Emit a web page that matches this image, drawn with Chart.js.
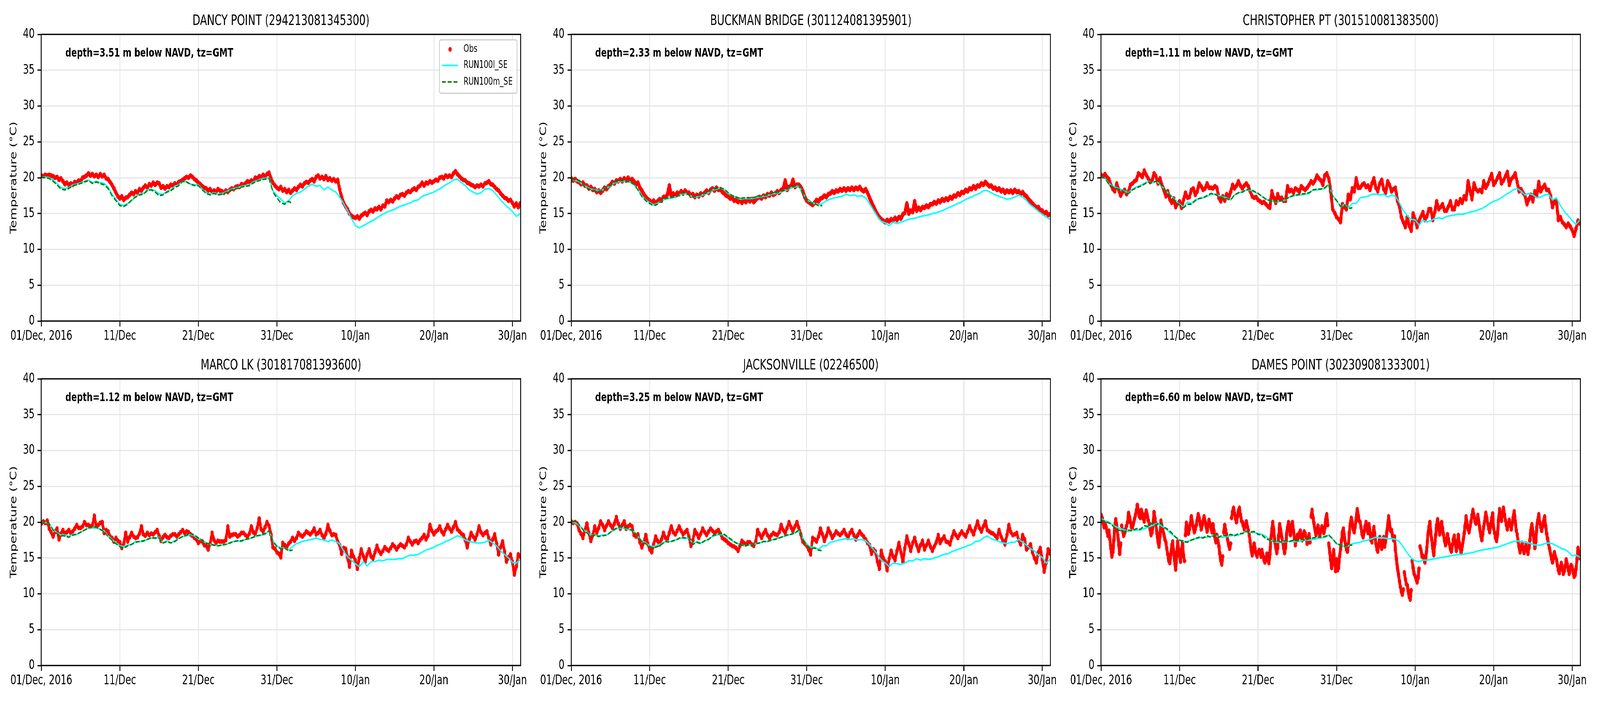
<!DOCTYPE html>
<html><head><meta charset="utf-8">
<script src="https://cdn.jsdelivr.net/npm/chart.js@4.4.1/dist/chart.umd.min.js"></script>
<style>
html,body{margin:0;padding:0;background:#fff;overflow:hidden;}
#wrap{position:relative;width:6000px;height:1800px;background:#fff;overflow:hidden;transform-origin:0 0;}
canvas{position:absolute;}
</style></head><body><div id="wrap"></div>
<script>
// ---------------- DATA ----------------
const stationTitles = ['DANCY POINT (294213081345300)','BUCKMAN BRIDGE (301124081395901)','CHRISTOPHER PT (301510081383500)',
  'MARCO LK (301817081393600)','JACKSONVILLE (02246500)','DAMES POINT (302309081333001)'];
const depthNotes = ['depth=3.51 m below NAVD, tz=GMT','depth=2.33 m below NAVD, tz=GMT','depth=1.11 m below NAVD, tz=GMT',
  'depth=1.12 m below NAVD, tz=GMT','depth=3.25 m below NAVD, tz=GMT','depth=6.60 m below NAVD, tz=GMT'];
const seriesLabels = ['Obs','RUN100l_SE','RUN100m_SE'];
const yAxisTitle = 'Temperature (\u00B0C)';
const xTickDays = [0,10,20,30,40,50,60];               // days since 01/Dec/2016 00:00 GMT
const xTickLabels = ['01/Dec, 2016','11/Dec','21/Dec','31/Dec','10/Jan','20/Jan','30/Jan'];
const obsStepDays = [0.25,0.25,0.25,0.25,0.25,0.125];  // sampling interval of the obs arrays (days)
const modelStepDays = 0.5;                             // sampling interval of the model arrays (days)

const obsDancy = [
20.3,20.2,20.4,20.3, 20.4,20.3,20.2,20.0, 20.1,19.7,19.9,19.5, 19.1,19.3,19.0,19.2, 19.0,19.4,19.3,19.6,
19.5,20.0,20.1,20.3, 20.6,20.3,20.5,20.2, 20.4,20.1,20.5,20.2, 20.4,19.9,19.8,19.4, 19.0,18.5,17.9,17.4,
17.1,17.4,16.9,17.2, 17.3,17.6,17.9,17.7, 18.1,17.9,18.4,18.2, 18.6,18.9,18.6,19.1, 18.9,19.3,19.0,19.3,
19.2,18.6,18.8,18.5, 18.8,18.7,19.0,18.9, 19.2,19.0,19.4,19.5, 19.7,19.9,20.1,20.0, 20.3,20.1,19.8,19.6,
19.3,19.1,18.8,18.6, 18.5,18.2,18.4,18.0, 18.2,18.0,18.4,18.2, 18.1,17.9,18.2,18.0, 18.3,18.5,18.4,18.7,
18.8,18.7,19.1,19.0, 19.2,19.5,19.4,19.6, 19.5,20.0,19.9,20.2, 20.1,20.4,20.2,20.5, 20.7,19.9,19.3,18.9,
18.6,18.4,18.7,18.2, 18.4,18.0,18.3,17.9, 18.2,18.5,18.3,18.7, 19.0,18.8,19.2,19.4, 19.3,19.6,19.8,19.5,
20.1,20.3,19.9,20.1, 19.8,20.2,19.7,19.9, 19.6,19.8,19.5,19.7, 18.4,17.3,16.5,16.0, 15.6,15.0,14.7,14.5,
14.4,14.6,14.3,14.7, 14.9,15.1,14.8,15.3, 15.5,15.3,15.7,15.6, 15.9,15.6,16.1,16.0, 16.8,16.6,16.9,16.7,
17.1,17.4,17.2,17.6, 17.7,17.5,17.9,18.1, 18.0,18.3,18.5,18.3, 18.7,18.9,19.3,18.9, 19.3,19.2,19.5,19.3,
19.5,19.7,19.6,20.0, 20.1,19.9,20.3,20.1, 20.3,20.1,20.6,20.9, 20.5,20.2,19.9,19.7, 19.6,19.3,19.2,19.0,
18.9,18.7,18.9,18.8, 19.0,18.8,19.2,19.3, 19.5,19.1,19.0,18.7, 18.4,18.2,17.8,17.5, 17.2,17.1,16.8,16.9,
16.5,16.0,16.4,15.9, 16.4];
const run100lDancy = [
20.1,20.1,20.0,19.7,19.2,18.6,18.5,18.6,19.0,19.1, 19.3,19.5,19.7,19.3,19.5,19.3,19.2,18.7,17.7,17.0,
16.3,16.1,16.4,16.8,17.4,17.7,17.8,18.3,18.4,18.2, 17.7,17.7,18.1,18.3,18.8,19.0,19.5,19.4,19.1,19.0,
19.0,18.4,17.9,17.7,17.9,17.7,17.8,18.0,18.3,18.5, 18.6,18.8,18.9,19.0,19.4,19.6,19.8,19.9,20.0,18.2,
17.5,17.0,16.5,16.8,17.5,17.8,18.0,18.4,18.8,19.1, 18.8,18.9,18.3,18.7,18.3,18.0,17.3,16.4,15.4,14.3,
13.3,13.0,13.3,13.6,13.9,14.2,14.6,14.9,15.2,15.4, 15.6,15.9,16.1,16.3,16.5,16.8,16.9,17.4,17.6,17.8,
18.0,18.3,18.6,19.0,19.3,19.7,19.8,19.3,18.9,18.3, 18.0,17.7,17.9,18.4,18.5,18.2,17.6,16.9,16.3,15.8,
15.3,14.6,15.0];
const run100mDancy = [
20.1,20.0,19.9,19.5,19.0,18.4,18.3,18.5,18.9,19.0, 19.2,19.4,19.6,19.2,19.4,19.2,19.0,18.5,17.5,16.8,
16.1,16.0,16.3,16.9,17.3,17.6,17.7,18.2,18.3,18.0, 17.5,17.6,18.0,18.2,18.6,18.9,19.5,19.4,19.1,18.9,
18.9,18.3,17.8,17.6,17.8,17.6,17.7,17.9,18.2,18.4, 18.5,18.7,18.8,18.9,19.3,19.5,19.7,19.8,19.9,18.0,
17.2,16.5,16.3,16.7,16.4];

const obsBuckman = [
19.9,19.6,19.8,19.5, 19.4,19.1,19.3,18.9, 18.9,18.5,18.7,18.3, 18.4,18.0,18.2,17.9, 18.2,18.6,18.4,18.8,
19.0,19.4,19.2,19.6, 19.5,19.8,19.5,19.9, 19.6,20.0,19.6,19.8, 19.5,19.1,19.3,18.6, 18.2,17.7,17.3,17.0,
16.8,16.5,16.8,16.4, 16.7,17.0,16.8,17.3, 17.3,17.6,18.9,17.4, 17.8,17.5,17.9,17.7, 18.1,17.8,18.2,17.9,
17.9,17.5,17.7,17.3, 17.6,17.4,17.8,17.6, 17.9,18.2,17.9,18.3, 18.5,18.2,18.6,18.3, 18.4,18.0,17.8,17.5,
17.4,17.1,17.2,16.8, 16.9,16.6,16.9,16.5, 16.9,16.6,17.0,16.7, 17.0,16.6,16.9,17.2, 17.3,17.1,17.5,17.3,
17.7,17.5,17.9,17.6, 17.8,18.1,17.9,18.3, 18.4,19.6,18.3,18.7, 18.8,19.7,18.7,19.0, 19.0,18.7,18.1,17.3,
16.8,16.6,16.4,16.2, 16.5,16.9,16.7,17.1, 17.2,17.5,17.3,17.7, 17.8,18.1,17.9,18.2, 18.1,18.4,18.2,18.5,
18.2,18.5,18.3,18.6, 18.3,18.6,18.4,18.7, 18.3,18.1,18.4,17.9, 17.2,16.6,16.0,15.4, 14.9,14.5,14.2,14.0,
13.8,14.1,13.9,14.2, 14.0,14.4,14.1,14.5, 14.3,14.9,15.1,16.4, 15.0,15.4,15.2,16.7, 15.4,15.8,15.5,15.9,
15.8,16.1,15.9,16.3, 16.3,16.6,16.4,16.8, 16.6,17.0,16.8,17.1, 16.9,17.3,17.1,17.5, 17.4,17.8,17.6,18.0,
17.9,18.3,18.1,18.5, 18.4,18.8,18.5,18.9, 18.8,19.2,19.0,19.4, 19.1,18.8,18.9,18.5, 18.6,18.3,18.5,18.1,
18.3,17.9,18.2,18.0, 18.2,17.9,18.3,18.0, 18.1,17.7,18.0,17.6, 17.4,17.0,16.7,16.4, 16.1,15.8,15.9,15.5,
15.4,15.0,15.2,14.8, 14.9];
const run100lBuckman = [
19.8,19.6,19.5,19.0,18.7,18.4,18.3,18.2,18.3,18.6, 18.8,19.3,19.4,19.5,19.5,19.4,19.0,18.3,17.5,16.9,
16.5,16.2,16.4,16.8,17.0,17.1,17.2,17.4,17.7,17.8, 17.6,17.3,17.3,17.5,17.7,17.9,18.3,18.4,18.6,18.3,
17.8,17.5,17.3,17.0,17.1,17.1,17.1,17.2,17.3,17.4, 17.5,17.7,17.8,17.9,18.1,18.3,18.6,18.7,18.9,17.9,
16.9,16.6,16.4,16.2,16.4,16.8,17.0,17.2,17.3,17.4, 17.7,17.5,17.6,17.4,17.5,17.2,16.4,15.5,14.6,13.9,
13.7,13.3,13.8,13.6,13.8,14.0,14.2,14.3,14.4,14.6, 14.7,14.8,15.0,15.1,15.3,15.5,15.8,16.0,16.3,16.5,
16.8,17.1,17.3,17.6,17.8,18.2,18.2,17.9,17.6,17.4, 17.2,17.0,17.1,17.3,17.6,17.3,16.8,16.2,15.8,15.3,
14.9,14.5,14.2];
const run100mBuckman = [
19.8,19.7,19.6,19.0,18.6,18.3,18.2,18.1,18.3,18.6, 18.9,19.4,19.5,19.6,19.5,19.4,19.1,18.3,17.4,16.8,
16.4,16.1,16.3,16.8,17.1,17.2,17.3,17.4,17.8,17.9, 17.6,17.3,17.4,17.6,17.8,18.0,18.4,18.5,18.6,18.4,
17.9,17.5,17.3,17.1,17.2,17.2,17.2,17.3,17.4,17.5, 17.6,17.8,17.9,18.0,18.2,18.4,18.7,18.8,19.0,17.9,
16.9,16.5,16.4,16.1,16.1];

const obsChristopher = [
20.4,20.2,20.5,20.1, 19.8,19.0,18.4,18.1, 19.2,18.3,17.5,18.0, 18.3,17.7,18.1,19.0, 19.2,19.5,19.7,20.6,
20.4,20.1,21.0,20.4, 19.9,19.4,19.6,20.6, 20.2,19.2,19.9,19.0, 18.3,17.4,18.1,17.0, 16.5,17.1,15.9,16.4,
16.7,15.8,16.9,17.9, 17.2,17.3,18.3,18.5, 17.6,18.1,19.2,18.8, 18.3,18.5,19.2,18.6, 18.6,18.5,18.8,18.6,
17.2,16.7,17.4,16.8, 17.7,17.2,18.0,19.0, 18.5,18.9,19.5,18.9, 18.5,18.9,19.2,18.8, 18.1,17.4,17.2,17.3,
16.9,16.7,16.5,16.6, 16.3,16.0,15.8,18.1, 17.2,16.5,17.7,17.0, 17.2,16.8,16.8,18.8, 18.1,18.3,17.9,18.5,
18.3,18.0,18.8,18.5, 18.3,18.6,19.0,19.5, 19.2,19.6,20.3,19.9, 19.6,19.0,20.3,20.6, 19.9,18.1,15.6,15.1,
14.5,14.2,13.8,16.3, 15.9,15.6,17.6,17.0, 18.5,18.1,19.9,18.6, 18.6,19.0,19.2,18.7, 18.9,18.3,19.2,19.9,
18.6,18.1,19.2,19.7, 18.4,17.9,19.5,19.0, 18.1,18.4,18.6,16.8, 16.0,14.5,13.8,13.1, 14.5,13.3,12.6,15.0,
14.2,13.1,14.0,14.6, 15.2,14.1,14.6,15.6, 15.6,14.1,15.2,16.7, 15.6,15.9,16.3,15.4, 15.4,16.0,16.7,15.6,
15.6,16.7,16.3,17.0, 16.5,17.4,17.0,19.5, 18.2,17.0,19.2,18.4, 18.1,18.3,18.0,19.5, 18.6,19.1,19.8,20.5,
19.0,19.4,20.0,20.6, 19.2,19.6,20.2,20.8, 19.0,19.8,20.1,20.6, 19.4,18.1,18.4,17.9, 17.5,16.3,17.0,17.6,
16.7,18.1,17.5,19.4, 18.1,18.6,19.0,18.3, 18.3,17.5,15.9,16.7, 16.7,14.1,14.5,13.8, 13.5,13.1,13.6,13.2,
12.7,11.9,12.9,14.0, 13.6];
const run100lChristopher = [
20.2,19.9,19.2,18.8,18.6,18.4,18.1,17.9,18.4,18.7, 18.9,19.2,19.5,19.3,19.5,19.1,18.5,17.9,17.4,16.8,
16.3,15.9,16.6,16.4,16.9,17.1,17.2,17.4,17.7,17.7, 17.5,17.3,17.2,16.9,17.6,17.9,18.0,18.3,18.3,18.0,
17.8,17.4,17.0,16.8,16.7,16.6,16.8,16.9,17.3,17.5, 17.6,17.6,17.7,17.8,18.3,18.3,18.4,18.5,19.1,17.5,
16.9,15.9,16.3,15.8,16.4,16.4,17.2,17.3,17.4,17.7, 17.7,17.6,17.7,17.3,17.6,17.4,16.5,15.4,14.7,14.2,
14.1,13.4,14.1,13.8,14.0,14.3,14.4,14.3,14.6,14.7, 14.8,14.9,14.9,15.0,15.2,15.3,15.5,15.7,16.0,16.4,
16.7,16.9,17.2,17.6,17.9,18.3,18.5,18.1,17.6,17.8, 17.6,17.2,17.3,17.6,17.7,16.9,17.2,16.1,15.3,14.7,
14.0,13.5,14.1];
const run100mChristopher = [
20.2,19.9,19.1,18.7,18.5,18.3,18.0,17.8,18.3,18.6, 18.8,19.1,19.4,19.3,19.5,19.2,18.5,17.9,17.3,16.7,
16.2,15.8,16.3,16.3,16.8,17.1,17.2,17.5,17.8,17.7, 17.4,17.2,17.1,16.9,17.6,17.9,18.0,18.3,18.4,18.1,
17.8,17.4,17.0,16.8,16.7,16.7,16.8,17.0,17.3,17.5, 17.6,17.7,17.8,17.9,18.3,18.4,18.4,18.6,19.1,17.4,
16.8,16.0,16.2,15.7,15.8];

const obsMarco = [
19.8,20.1,19.9,20.2, 19.1,18.6,18.0,18.7, 19.1,17.6,18.4,18.9, 18.3,18.6,18.9,18.5, 18.7,19.1,19.6,19.2,
19.2,19.4,20.0,19.6, 19.6,19.4,19.5,20.9, 19.4,19.6,19.9,20.0, 18.5,18.9,18.7,18.0, 17.8,17.3,17.8,17.4,
17.2,16.4,17.0,18.5, 17.3,17.9,18.5,18.0, 17.8,17.9,18.4,19.4, 18.3,18.1,18.5,18.2, 18.4,18.3,18.6,18.9,
18.1,17.4,17.9,18.2, 17.9,17.8,18.1,18.3, 18.3,18.0,18.3,18.6, 18.9,18.5,18.7,18.6, 18.3,18.1,17.8,17.6,
17.1,17.4,17.3,16.8, 16.7,16.2,17.0,18.5, 17.5,17.1,17.4,17.3, 17.3,17.3,17.5,19.4, 18.0,18.2,18.3,18.3,
18.0,18.2,18.5,18.5, 18.2,18.0,18.4,19.4, 18.6,18.3,19.2,20.5, 19.0,18.7,19.3,20.0, 19.5,18.3,16.5,16.3,
15.8,15.6,15.1,17.1, 16.8,16.5,17.0,17.3, 17.8,17.4,17.8,18.5, 18.2,18.0,18.3,18.7, 18.5,18.3,18.6,19.1,
18.3,18.5,18.9,18.2, 17.8,18.4,19.6,18.8, 18.2,18.3,18.2,17.3, 16.8,15.6,16.4,16.3, 15.1,13.8,16.0,15.2,
14.7,13.5,15.0,16.2, 15.3,14.5,15.5,16.2, 15.2,14.9,15.8,16.7, 16.0,15.6,16.0,16.5, 16.2,16.0,16.4,16.9,
16.6,16.2,16.6,16.9, 16.7,16.5,16.9,17.8, 17.3,16.9,17.3,17.4, 17.1,17.5,17.8,18.2, 17.6,18.1,19.6,18.8,
18.3,18.7,18.9,19.4, 18.7,18.3,19.0,19.6, 19.1,18.7,19.3,20.0, 19.0,18.7,18.4,18.2, 17.5,16.5,17.6,18.5,
18.0,17.6,18.3,19.4, 18.6,18.2,18.5,18.7, 17.8,16.9,17.6,18.3, 17.0,15.5,16.5,17.3, 15.9,14.5,15.1,15.5,
14.5,12.7,13.8,15.5, 15.2];
const run100lMarco = [
20.0,20.0,19.8,19.0,18.5,18.2,18.2,18.0,18.3,18.3, 18.6,18.9,19.2,19.2,19.2,19.0,18.8,18.1,17.6,17.1,
16.7,16.6,16.8,16.9,17.3,17.3,17.3,17.6,17.8,17.7, 17.9,17.1,17.4,17.1,17.4,17.7,18.0,18.1,18.3,18.1,
17.7,17.4,17.1,16.9,16.8,16.7,16.8,16.9,17.1,17.3, 17.4,17.3,17.6,17.7,17.9,18.1,18.2,18.3,18.8,17.4,
16.7,16.4,16.4,16.1,16.6,17.0,17.2,17.4,17.5,17.6, 17.8,17.6,17.5,17.3,17.5,17.3,17.0,16.0,15.2,14.7,
14.2,13.8,14.5,13.9,14.5,14.5,14.7,14.6,14.8,14.8, 14.8,14.9,14.9,15.2,15.4,15.4,15.5,15.8,16.1,16.3,
16.5,16.8,17.0,17.3,17.5,17.8,18.1,17.9,17.5,17.3, 17.2,17.1,17.1,17.2,17.5,17.1,16.7,16.0,15.5,15.0,
14.4,14.3,14.8];
const run100mMarco = [
19.9,20.1,19.8,18.9,18.4,18.1,18.1,17.9,18.2,18.3, 18.6,18.9,19.2,19.3,19.3,19.0,18.7,18.0,17.5,17.0,
16.6,16.4,16.7,16.9,17.2,17.3,17.4,17.6,17.8,17.8, 17.8,17.1,17.3,17.1,17.3,17.7,18.0,18.2,18.4,18.2,
17.8,17.4,17.1,16.9,16.8,16.7,16.8,16.9,17.1,17.3, 17.4,17.4,17.6,17.7,17.9,18.1,18.2,18.4,18.8,17.3,
16.6,16.3,16.4,16.0,16.1];

const obsJacksonville = [
20.1,19.9,20.0,19.8, 18.9,18.4,17.8,18.9, 19.8,18.5,17.4,18.2, 19.4,18.5,19.2,20.1, 19.6,18.9,19.5,20.1,
19.6,19.2,19.8,20.7, 19.8,19.1,19.6,20.1, 19.1,19.4,19.6,19.4, 18.2,18.0,18.3,17.2, 16.5,17.2,18.2,17.0,
16.2,15.8,16.9,18.0, 17.4,16.9,17.6,18.5, 17.8,17.6,18.5,19.4, 18.6,18.3,18.8,19.4, 18.8,18.3,18.6,18.9,
18.0,16.7,17.5,18.9, 18.4,17.8,18.4,19.1, 18.6,18.2,18.7,19.1, 18.8,18.5,18.7,18.9, 18.4,17.8,17.6,17.4,
17.1,16.9,16.7,16.6, 16.4,16.0,16.7,17.4, 17.1,16.9,17.2,17.2, 16.9,16.7,17.3,18.9, 18.3,17.8,18.4,18.9,
18.2,17.8,18.2,18.5, 18.3,18.2,18.6,19.6, 18.9,18.5,19.2,20.0, 19.3,18.7,19.4,20.0, 19.2,18.3,17.3,17.0,
16.7,16.2,15.5,17.8, 17.6,17.3,18.0,19.1, 18.3,17.4,18.1,19.1, 18.5,17.8,18.2,18.7, 18.4,18.2,18.5,18.9,
18.3,17.8,18.5,18.9, 18.2,17.6,18.2,18.7, 18.3,18.0,17.6,17.1, 16.8,15.6,16.2,15.9, 14.5,13.5,16.0,15.0,
14.5,13.3,14.9,16.0, 15.2,14.7,16.0,17.1, 15.8,14.5,16.4,18.0, 17.0,16.0,17.1,17.8, 16.8,16.0,16.8,17.4,
16.2,16.8,17.4,16.6, 16.0,16.6,17.2,18.2, 17.1,17.6,18.0,17.3, 17.2,16.9,17.9,18.7, 18.2,17.8,18.3,18.7,
18.3,18.0,18.7,19.4, 18.8,18.3,19.2,20.1, 19.2,18.7,19.4,20.1, 18.9,18.7,18.5,18.4, 18.1,17.8,18.9,18.0,
17.4,16.9,18.2,19.6, 18.6,18.2,18.3,18.5, 17.5,16.9,18.2,17.6, 16.2,16.5,16.9,15.8, 15.0,14.4,15.8,16.4,
14.8,13.1,14.4,16.2, 15.6];
const run100lJacksonville = [
20.0,19.9,19.6,19.0,18.6,18.2,18.2,18.1,18.2,18.2, 18.6,18.9,19.2,19.2,19.1,18.9,18.7,18.0,17.4,17.1,
16.7,16.6,16.8,17.0,17.3,17.3,17.4,17.6,17.8,17.7, 17.8,17.0,17.3,17.1,17.4,17.6,18.0,18.2,18.3,18.2,
17.8,17.4,17.1,16.9,16.7,16.8,16.9,17.0,17.1,17.3, 17.3,17.5,17.7,17.8,18.0,18.2,18.3,18.5,18.8,17.8,
16.9,16.5,16.5,16.2,16.7,16.7,17.2,17.3,17.5,17.6, 17.7,17.6,17.7,17.5,17.6,17.4,16.9,16.2,15.5,14.7,
14.3,13.8,14.3,14.2,14.1,14.3,14.6,14.6,14.9,14.7, 14.9,14.8,14.9,15.1,15.3,15.5,15.6,15.9,16.1,16.3,
16.5,16.7,16.9,17.3,17.4,17.8,18.1,17.7,17.5,17.3, 17.1,17.0,17.2,17.2,17.6,17.2,16.8,16.3,16.0,15.4,
15.1,14.3,14.8];
const run100mJacksonville = [
20.0,20.1,19.7,18.9,18.5,18.1,18.2,18.0,18.1,18.2, 18.6,19.0,19.3,19.3,19.2,19.0,18.7,18.0,17.3,17.0,
16.6,16.4,16.6,16.9,17.3,17.2,17.4,17.6,17.9,17.8, 17.9,16.9,17.2,17.0,17.4,17.6,18.1,18.3,18.4,18.3,
17.9,17.5,17.1,16.9,16.7,16.8,16.9,17.0,17.1,17.3, 17.3,17.5,17.6,17.8,18.0,18.2,18.3,18.5,18.9,17.6,
16.8,16.3,16.4,16.1,16.0];

const obsDames = [
21.0,20.6,20.0,19.3,19.9,19.4,18.7,18.1, 18.8,17.6,16.3,15.2,15.8,17.5,19.2,20.4, 19.5,18.2,16.9,15.6,17.0,19.5,18.8,18.1,
18.5,19.0,19.5,20.0,21.3,20.7,20.0,19.3, 19.2,19.8,20.4,21.0,21.6,22.4,21.6,20.8, 20.6,21.7,21.2,20.5,20.1,20.9,21.6,21.0,
20.3,19.8,19.0,18.2,18.6,19.7,21.4,20.5, 19.6,18.4,17.3,16.6,18.0,20.2,19.5,18.9, 18.3,17.6,17.2,16.3,15.5,14.6,14.3,15.4,
16.8,17.3,15.8,14.6,13.4,15.2,17.3,16.2, 15.3,14.5,16.0,17.2,15.4,14.6,18.2,19.9, 19.3,18.4,19.0,19.8,20.8,19.9,19.2,18.6,
19.0,19.6,20.3,21.1,20.6,19.8,19.0,19.6, 20.2,20.8,20.1,19.4,18.7,19.5,20.3,19.8, 19.2,18.6,19.7,18.8,17.9,17.2,18.2,17.4,
16.7,15.6,14.6,14.1,15.2,18.6,19.6,18.9, 18.2,17.5,16.8,16.3,17.0,20.6,21.5,22.0, 21.3,20.5,20.0,20.8,21.6,22.0,21.1,20.2,
20.0,19.5,19.0,19.6,20.1,19.4,18.9,18.2, 17.2,16.1,15.4,16.2,17.0,16.3,15.6,15.2, 15.8,16.1,15.7,15.2,16.1,15.3,14.7,14.4,
15.1,15.6,14.8,14.3,15.5,17.6,19.0,20.0, 18.8,17.3,16.5,15.7,16.4,18.1,19.7,18.9, 18.0,17.3,16.4,15.7,16.5,18.2,19.3,20.0,
19.1,18.2,19.5,20.0,18.9,17.8,16.8,17.5, 18.2,17.8,18.5,18.8,17.9,17.5,18.2,18.7, 18.4,17.7,17.0,17.6,18.3,17.2,20.8,21.7,
20.6,19.8,19.0,18.2,18.8,19.5,18.6,18.1, 18.8,19.4,19.0,18.5,19.2,20.4,21.1,19.6, 17.0,15.8,14.7,13.6,14.5,16.1,14.6,13.2,
14.8,13.3,13.6,15.2,16.2,17.4,18.6,19.1, 17.9,17.0,16.2,15.9,16.8,18.6,19.8,20.6, 19.9,19.0,18.6,19.4,20.6,21.8,21.0,20.2,
20.0,19.2,18.3,17.9,18.6,19.4,20.0,19.1, 18.5,19.7,18.6,17.5,17.2,18.4,19.3,18.0, 17.1,16.2,15.9,16.8,17.9,17.0,16.3,17.2,
17.9,16.6,17.4,18.4,19.6,20.8,19.9,18.8, 18.9,18.1,17.5,18.0,16.1,14.8,13.6,12.8, 11.8,11.0,10.3,9.9,10.6,13.0,12.1,11.4,
11.2,10.4,9.6,9.2,10.5,14.6,13.6,12.8, 12.5,12.0,11.6,12.2,13.5,16.6,16.1,15.2, 15.3,14.8,14.4,15.0,16.5,18.2,19.3,20.0,
18.6,17.5,16.3,15.4,16.9,18.2,19.6,20.4, 19.4,18.3,18.7,20.0,19.1,18.2,17.4,16.8, 17.5,18.3,17.6,16.9,16.2,15.9,16.8,17.6,
18.1,17.0,16.0,16.8,18.2,17.1,16.3,15.7, 16.6,17.5,18.4,19.5,20.8,19.8,19.0,18.6, 19.4,20.1,21.0,21.7,20.9,20.1,19.8,20.4,
21.0,20.0,19.0,18.1,17.5,18.4,19.4,20.2, 21.3,20.6,19.8,19.1,18.6,19.5,20.5,21.2, 19.2,18.5,17.8,17.4,18.3,20.2,21.8,21.0,
20.2,21.2,22.0,21.1,20.3,19.6,19.0,19.8, 20.3,19.6,19.0,19.8,20.7,21.5,20.2,18.9, 18.3,17.3,16.5,15.8,16.4,17.1,16.3,15.7,
16.2,17.0,16.1,15.6,16.4,17.5,18.9,19.7, 18.7,17.5,16.4,17.3,19.3,20.3,21.1,20.0, 19.3,18.8,19.5,20.2,20.8,19.5,18.4,17.7,
16.9,16.3,15.6,14.9,14.4,15.0,15.8,15.2, 14.8,14.0,13.3,12.9,13.6,14.3,13.6,12.8, 13.2,13.9,14.8,14.2,13.4,12.8,13.5,14.0,
13.8,13.0,12.4,12.6,13.5,14.9,16.4,15.6, 15.0];
const run100lDames = [
20.5,20.2,20.0,19.6,19.3,19.1,18.9,18.7,18.9,18.9, 18.9,19.1,19.3,19.5,19.8,19.6,19.3,18.8,18.3,17.9,
17.5,17.3,17.3,17.5,17.7,17.8,17.9,17.9,18.0,18.2, 17.9,17.9,18.0,18.1,18.2,18.2,18.5,18.7,18.6,18.6,
18.4,18.3,18.0,17.5,17.3,17.2,17.2,17.3,17.3,17.3, 17.3,17.4,17.5,17.5,17.6,17.7,17.8,17.9,18.2,17.6,
17.0,16.8,16.6,16.7,17.0,17.1,17.2,17.4,17.5,17.7, 17.9,17.8,17.8,17.7,17.7,17.6,17.3,16.5,15.7,15.0,
14.6,14.5,14.7,14.7,14.8,14.9,15.0,15.1,15.2,15.3, 15.4,15.5,15.5,15.6,15.7,15.8,16.0,16.1,16.2,16.3,
16.4,16.5,16.7,16.9,17.1,17.3,17.4,17.3,17.2,17.1, 16.9,16.8,16.8,17.0,17.1,17.0,16.7,16.4,16.2,15.9,
15.3,15.4,15.1];
const run100mDames = [
20.3,20.1,19.9,19.5,19.0,18.8,18.7,18.9,18.8,19.1, 19.0,19.5,19.4,19.9,19.6,20.0,19.3,19.0,18.5,17.9,
17.5,17.3,17.2,17.5,17.7,17.9,17.8,18.1,17.9,18.2, 17.9,18.2,18.1,18.3,18.1,18.4,18.4,18.7,18.6,18.7,
18.3,18.2,17.7,17.5,17.3,17.4,17.2,17.4,17.3,17.5, 17.4,17.6,17.5,17.7,17.8,17.9,17.9,18.0,18.2,17.7,
17.0,16.8,16.6,16.8,16.8];

const obsSeries = [obsDancy, obsBuckman, obsChristopher, obsMarco, obsJacksonville, obsDames];
const run100lSeries = [run100lDancy, run100lBuckman, run100lChristopher, run100lMarco, run100lJacksonville, run100lDames];
const run100mSeries = [run100mDancy, run100mBuckman, run100mChristopher, run100mMarco, run100mJacksonville, run100mDames];

// ---------------- LAYOUT / STYLE ----------------
const FIG_W = 6000, FIG_H = 1800;
const FONT = "'DejaVu Sans', sans-serif";
const X_MAX = 61.05;
const AX_W = 155, TITLE_H = 88, XAX_H = 70, PAD_R = 25, PLOT_W = 1801, PLOT_H = 734;
const CW = AX_W + PLOT_W + PAD_R, CH = TITLE_H + PLOT_H + XAX_H;
const COL_LEFT = [0, 1987, 3974], ROW_TOP = [0, 882];
const COL_OBS = '#ff0000', COL_L = '#00ffff', COL_M = '#008000';
// dense observation records render as a continuous beaded trace; jumps larger than this are left unjoined
const OBS_JOIN_WIDTH = [11, 12, 11, 10, 10, 11];
const OBS_JOIN_MAXJUMP = [99, 99, 99, 99, 99, 2.2];

// fit the whole 6000x1800 figure into the actual viewport if it is smaller
(function fitFigure() {
  const vw = window.innerWidth || document.documentElement.clientWidth || FIG_W;
  const vh = window.innerHeight || document.documentElement.clientHeight || FIG_H;
  const sx = Math.min(1, vw / FIG_W), sy = Math.min(1, vh / FIG_H);
  if (sx < 0.999 || sy < 0.999) {
    document.getElementById('wrap').style.transform = 'scale(' + sx + ',' + sy + ')';
  }
})();

const framePlugin = {
  id: 'frame',
  afterDatasetsDraw(chart) {
    const {ctx, chartArea: a} = chart;
    ctx.save(); ctx.strokeStyle = '#000'; ctx.lineWidth = 3.3;
    ctx.strokeRect(a.left, a.top, a.right - a.left, a.bottom - a.top);
    ctx.restore();
  }
};
const notePlugin = {
  id: 'depthNote',
  afterDatasetsDraw(chart, args, opts) {
    const {ctx, chartArea: a} = chart;
    ctx.save(); ctx.fillStyle = '#000'; ctx.font = "bold 31px " + FONT;
    ctx.textAlign = 'left'; ctx.textBaseline = 'alphabetic';
    ctx.fillText(opts.text, a.left + 90, a.top + 57.4);
    ctx.restore();
  }
};
const insideLegend = {
  id: 'insideLegend',
  afterDraw(chart, args, opts) {
    if (!opts.show) return;
    const {ctx, chartArea: a} = chart;
    const ds = chart.data.datasets;
    const x0 = a.right - 304.3, y0 = a.top + 14, w = 291, h = 136.7, r = 6;
    ctx.save();
    ctx.beginPath();
    ctx.moveTo(x0 + r, y0); ctx.lineTo(x0 + w - r, y0); ctx.arcTo(x0 + w, y0, x0 + w, y0 + r, r);
    ctx.lineTo(x0 + w, y0 + h - r); ctx.arcTo(x0 + w, y0 + h, x0 + w - r, y0 + h, r);
    ctx.lineTo(x0 + r, y0 + h); ctx.arcTo(x0, y0 + h, x0, y0 + h - r, r);
    ctx.lineTo(x0, y0 + r); ctx.arcTo(x0, y0, x0 + r, y0, r); ctx.closePath();
    ctx.fillStyle = 'rgba(255,255,255,0.8)'; ctx.fill();
    ctx.strokeStyle = '#cccccc'; ctx.lineWidth = 3; ctx.stroke();
    const rows = [38.4, 79.4, 121.7].map(v => a.top + v);
    ctx.fillStyle = ds[0].pointBackgroundColor; ctx.beginPath(); ctx.arc(x0 + 40, rows[0], 6.25, 0, Math.PI * 2); ctx.fill();
    for (let k = 1; k <= 2; k++) {
      ctx.beginPath(); ctx.strokeStyle = ds[k].borderColor; ctx.lineWidth = ds[k].borderWidth;
      ctx.setLineDash(ds[k].borderDash || []);
      ctx.moveTo(x0 + 9.3, rows[k]); ctx.lineTo(x0 + 69.3, rows[k]); ctx.stroke();
    }
    ctx.setLineDash([]);
    ctx.fillStyle = '#000'; ctx.font = "27px " + FONT; ctx.textAlign = 'left'; ctx.textBaseline = 'middle';
    for (let k = 0; k < 3; k++) ctx.fillText(ds[k].label, x0 + 90, rows[k]);
    ctx.restore();
  }
};

const gridOpts = {color: '#e6e6e6', lineWidth: 3, drawTicks: true, tickLength: 14, tickColor: '#000', tickWidth: 3.3};
const wrap = document.getElementById('wrap');

for (let idx = 0; idx < 6; idx++) {
  const canvas = document.createElement('canvas');
  canvas.width = CW; canvas.height = CH;
  canvas.style.left = COL_LEFT[idx % 3] + 'px';
  canvas.style.top = ROW_TOP[Math.floor(idx / 3)] + 'px';
  canvas.style.width = CW + 'px'; canvas.style.height = CH + 'px';
  wrap.appendChild(canvas);
  const step = obsStepDays[idx];
  const maxJump = OBS_JOIN_MAXJUMP[idx];
  const datasets = [
    {label: seriesLabels[0], data: obsSeries[idx].map((v, i) => ({x: i * step, y: v})),
     showLine: true, borderWidth: OBS_JOIN_WIDTH[idx], borderColor: COL_OBS, backgroundColor: COL_OBS,
     borderJoinStyle: 'round', borderCapStyle: 'round', tension: 0,
     segment: {borderColor: (c) => Math.abs(c.p1.parsed.y - c.p0.parsed.y) > maxJump ? 'rgba(0,0,0,0)' : undefined},
     pointRadius: 6.25, pointHoverRadius: 6.25, pointBorderWidth: 0, pointBackgroundColor: COL_OBS, order: 3},
    {label: seriesLabels[1], data: run100lSeries[idx].map((v, i) => ({x: i * modelStepDays, y: v})),
     showLine: true, pointRadius: 0, borderColor: COL_L, backgroundColor: COL_L, borderWidth: 4, tension: 0, order: 2},
    {label: seriesLabels[2], data: run100mSeries[idx].map((v, i) => ({x: i * modelStepDays, y: v})),
     showLine: true, pointRadius: 0, borderColor: COL_M, backgroundColor: COL_M, borderWidth: 4, borderDash: [15, 6.5], tension: 0, order: 1}
  ];
  new Chart(canvas, {
    type: 'scatter',
    data: {datasets},
    options: {
      responsive: false, animation: false, devicePixelRatio: 1, events: [],
      layout: {padding: {left: 0, right: PAD_R, top: 0, bottom: 0}},
      plugins: {
        legend: {display: false},
        tooltip: {enabled: false},
        title: {display: true, fullSize: false, text: stationTitles[idx], color: '#000',
                font: {family: FONT, size: 38, weight: 'normal', lineHeight: 1.2}, padding: {top: 31, bottom: 11.4}},
        depthNote: {text: depthNotes[idx]},
        insideLegend: {show: idx === 0}
      },
      scales: {
        x: {
          type: 'linear', min: 0, max: X_MAX,
          afterBuildTicks: (axis) => { axis.ticks = xTickDays.map(v => ({value: v})); },
          afterFit: (axis) => { axis.height = XAX_H; },
          ticks: {autoSkip: false, maxRotation: 0, minRotation: 0, color: '#000', padding: 4.7,
                  font: {family: FONT, size: 34.5, lineHeight: 1.2},
                  callback: (value) => { const k = xTickDays.indexOf(value); return k >= 0 ? xTickLabels[k] : ''; }},
          grid: gridOpts, border: {display: false}
        },
        y: {
          min: 0, max: 40,
          afterFit: (axis) => { axis.width = AX_W; },
          ticks: {stepSize: 5, color: '#000', padding: 11, font: {family: FONT, size: 34.5, lineHeight: 1.2}},
          grid: gridOpts, border: {display: false},
          title: {display: true, text: yAxisTitle, color: '#000', font: {family: FONT, size: 33.3, lineHeight: 1.2},
                  padding: {top: 32, bottom: 0}}
        }
      }
    },
    plugins: [framePlugin, notePlugin, insideLegend]
  });
}
</script>
</body></html>
